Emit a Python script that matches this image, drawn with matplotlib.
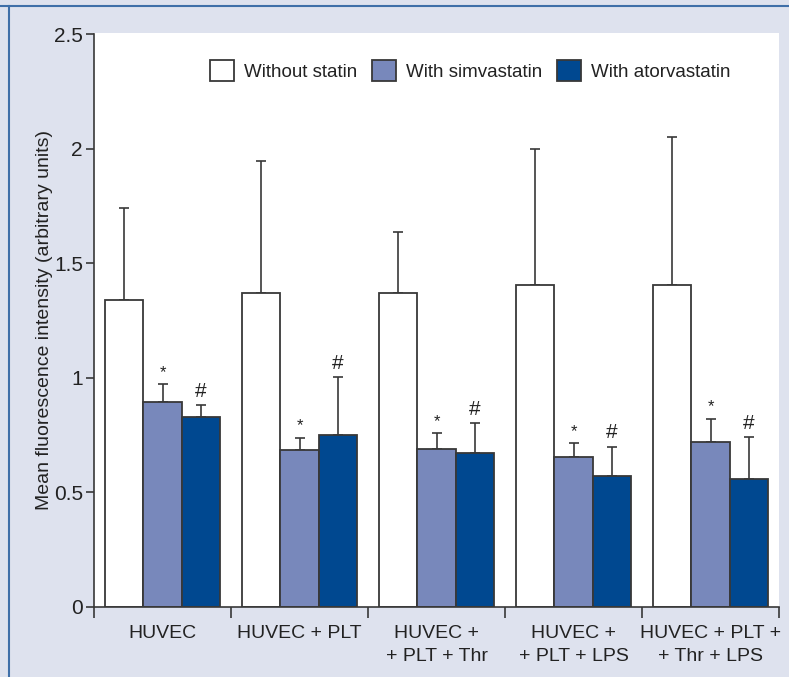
import numpy as np
import matplotlib
matplotlib.use('Agg')
import matplotlib.pyplot as plt
from matplotlib.patches import Patch
from matplotlib.lines import Line2D

plt.rcParams['font.family'] = ['Liberation Sans Narrow', 'Liberation Sans', 'DejaVu Sans']

# Data
groups = ['HUVEC', 'HUVEC + PLT', 'HUVEC +\n+ PLT + Thr', 'HUVEC +\n+ PLT + LPS', 'HUVEC + PLT +\n+ Thr + LPS']
series_names = ['Without statin', 'With simvastatin', 'With atorvastatin']
no_statin = [1.34, 1.37, 1.37, 1.405, 1.405]
no_statin_err = [0.40, 0.575, 0.265, 0.595, 0.645]
simva = [0.893, 0.686, 0.689, 0.656, 0.719]
simva_err = [0.08, 0.053, 0.07, 0.06, 0.103]
atorva = [0.827, 0.752, 0.672, 0.570, 0.557]
atorva_err = [0.056, 0.25, 0.131, 0.13, 0.186]
markers = ['', '*', '#']

colors = ['#ffffff', '#7888bb', '#004890']
edge = '#383838'
bg = '#dee2ee'

fig = plt.figure(figsize=(7.89, 6.77), dpi=100, facecolor=bg)
ax = fig.add_axes([94 / 789, 1 - 607 / 677, 685 / 789, 574 / 677])
ax.set_facecolor('white')

# frame lines of the figure panel
fig.add_artist(Line2D([0, 1], [1 - 6 / 677] * 2, color='#3f6fa8', lw=1.5, transform=fig.transFigure))
fig.add_artist(Line2D([9 / 789] * 2, [0, 1 - 6 / 677], color='#3f6fa8', lw=1.5, transform=fig.transFigure))

x = np.arange(len(groups))
w = 0.28
all_vals = [no_statin, simva, atorva]
all_errs = [no_statin_err, simva_err, atorva_err]
for i, (vals, errs) in enumerate(zip(all_vals, all_errs)):
    pos = x + (i - 1) * w
    ax.bar(pos, vals, w, color=colors[i], edgecolor=edge, linewidth=1.3,
           label=series_names[i], zorder=2)
    ax.errorbar(pos, vals, yerr=[np.zeros(len(vals)), errs], fmt='none',
                ecolor=edge, elinewidth=1.2, capsize=3.5, capthick=1.2, zorder=1)
    if markers[i]:
        for p, v, e in zip(pos, vals, errs):
            ax.annotate(markers[i], (p, v + e), xytext=(0, 3), textcoords='offset points',
                        ha='center', va='bottom',
                        fontsize=12 if markers[i] == '*' else 15, color='#222222')

ax.set_xlim(-0.5, len(groups) - 0.5)
ax.set_ylim(0, 2.505)
ax.set_yticks([0, 0.5, 1, 1.5, 2, 2.5])
ax.set_yticklabels(['0', '0.5', '1', '1.5', '2', '2.5'])
ax.set_xticks(x)
ax.set_xticklabels(groups, fontsize=14, linespacing=1.45, color='#222222')
ax.set_xticks(np.arange(-0.5, len(groups)), minor=True)
ax.tick_params(axis='x', which='major', length=0, pad=13)
ax.tick_params(axis='x', which='minor', length=8, width=1.2, color=edge, direction='out')
ax.tick_params(axis='y', length=6, width=1.2, color=edge, labelsize=15, pad=2, labelcolor='#222222')

for s in ['top', 'right']:
    ax.spines[s].set_visible(False)
for s in ['left', 'bottom']:
    ax.spines[s].set_color(edge)
    ax.spines[s].set_linewidth(1.2)
ax.spines['left'].set_bounds(0, 2.5)

ax.set_ylabel('Mean fluorescence intensity (arbitrary units)', fontsize=14, color='#222222')
ax.yaxis.set_label_coords(-0.060, 0.5)

handles = [Patch(facecolor=c, edgecolor=edge, linewidth=1.3) for c in colors]
ax.legend(handles, series_names, ncol=3, frameon=False, loc='center',
          bbox_to_anchor=(0.5496, 0.934), fontsize=13.5, handlelength=1.25,
          handleheight=1.35, handletextpad=0.55, columnspacing=0.8,
          labelcolor='#222222')

fig.savefig('out.png', dpi=100, facecolor=bg)
